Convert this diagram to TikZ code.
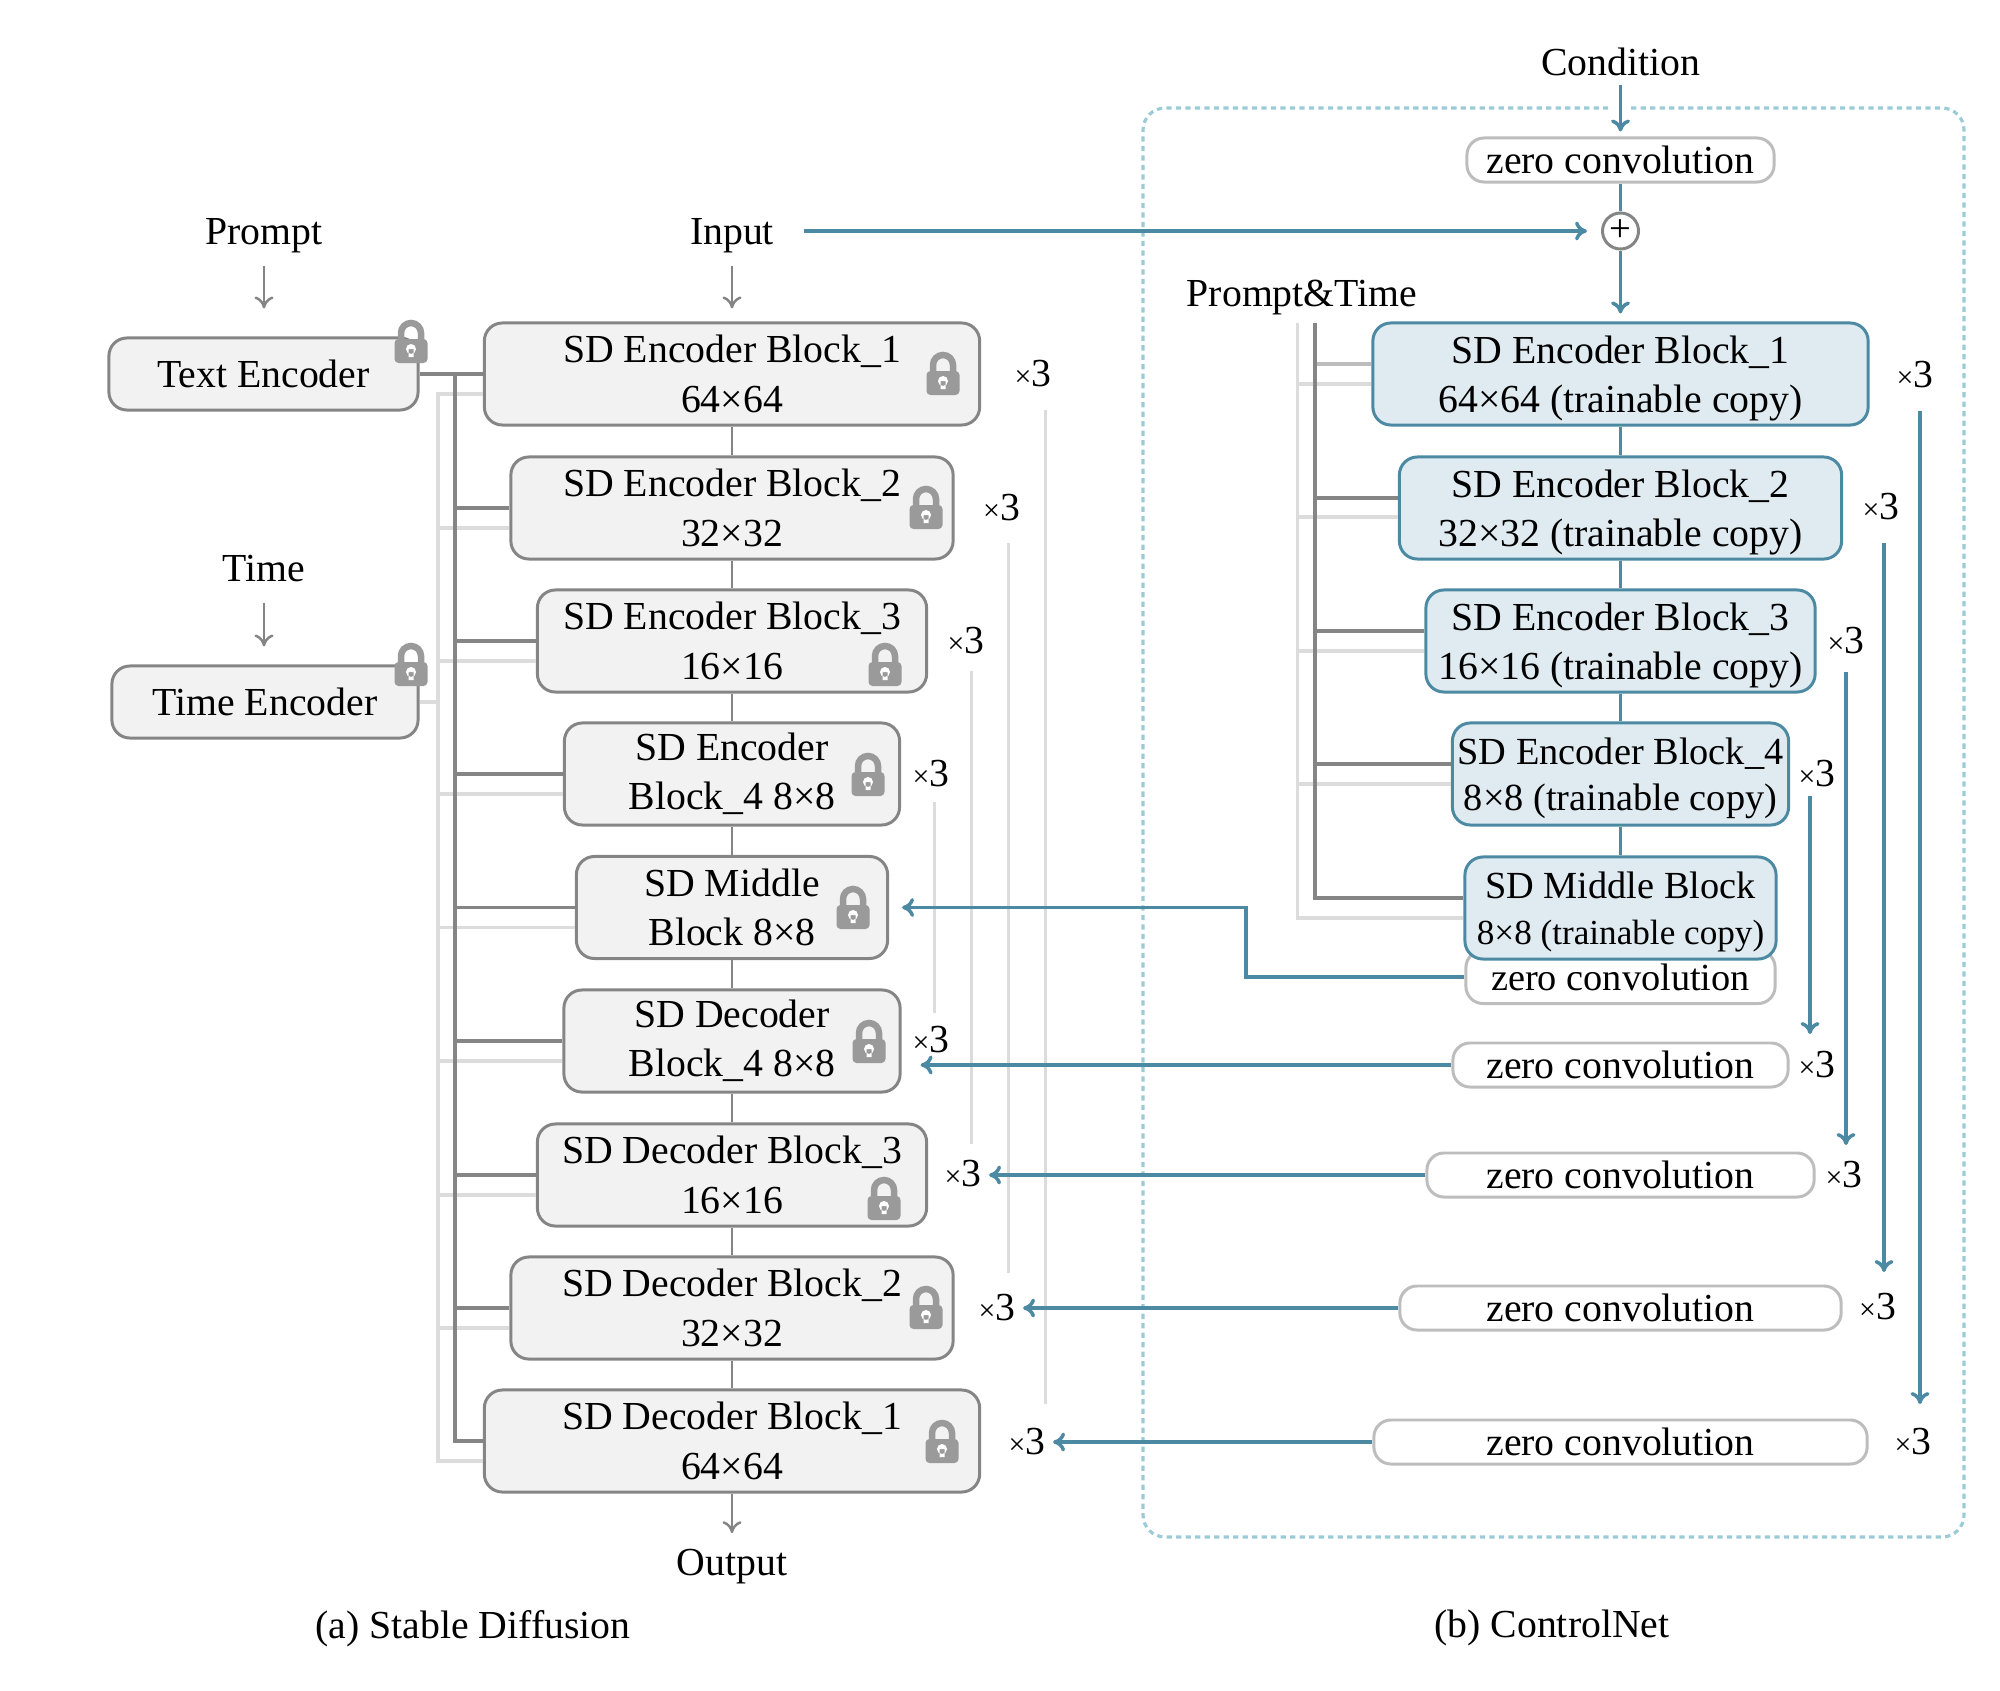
\documentclass[tikz,border=0pt]{standalone}
\usepackage{fontspec}
\setmainfont{Liberation Serif}
\usetikzlibrary{arrows.meta, positioning, calc}
\definecolor{teal1}{HTML}{4C89A2}
\definecolor{tealfill}{HTML}{DFEBF1}
\definecolor{dashteal}{HTML}{9CCBD8}
\definecolor{greyline}{HTML}{858585}
\definecolor{greylight}{HTML}{DCDCDC}
\definecolor{greyzero}{HTML}{BDBDBD}
\definecolor{greyfill}{HTML}{F2F2F2}
\definecolor{greylock}{HTML}{9A9A9A}
\newcommand{\xthree}{{\fontsize{8.5}{8.5}\selectfont ×}3}
\tikzset{
  flow/.style={
	x=0.01cm, y=-0.01cm, % one unit is one pixel of the reference
	>={Computer Modern Rightarrow[length=1.2mm,width=1.9mm]}, % open arrow heads
	font=\fontsize{11.3}{14}\selectfont,
	every node/.style={inner sep=0pt, align=center},
  },
  lbl/.style={text depth=0pt}, % labels sit on their baseline
  sdblock/.style={draw=greyline, fill=greyfill, line width=0.85pt, rounded corners=0.18cm, minimum height=1.02cm},
  ctblock/.style={draw=teal1, fill=tealfill, line width=0.85pt, rounded corners=0.18cm, minimum height=1.02cm, text depth=0pt},
  zeroconv/.style={draw=greyzero, fill=white, line width=0.85pt, rounded corners=0.17cm, minimum height=0.44cm},
  greyarrow/.style={draw=greyline, line width=0.7pt},
  bluearrow/.style={draw=teal1, line width=1pt},
  busdark/.style={draw=greyline, line width=1pt},
  buslight/.style={draw=greylight, line width=0.9pt},
  lockicon/.pic={
	\draw[greylock, line width=0.065cm] (-10,0) -- (-10,-9) arc[start angle=180, end angle=360, radius=10] -- (10,0);
	\fill[greylock, rounded corners=0.04cm] (-16.5,-3) rectangle (16.5,21);
	\fill[white] (0,7) circle[radius=5] (-2.5,7) rectangle (2.5,15);
  },
}
\begin{document}
\begin{tikzpicture}[flow]
	  \useasboundingbox (0,0) rectangle (2000,1691);

	  % stable diffusion
	  \node[lbl] (prompt) at (264,231) {Prompt};
	  \node[lbl] (time) at (264,568) {Time};
	  \node[lbl] (input) at (732,231) {Input};
	  \node[lbl] (output) at (732,1562) {Output};
	  \node[sdblock, minimum width=3.09cm, minimum height=0.72cm] (te) at (263.5,374) {Text Encoder};
	  \node[sdblock, minimum width=3.06cm, minimum height=0.72cm] (tie) at (265,702) {Time Encoder};

	  % light bus below the dark one
	  \coordinate (lightbus) at (438,395);
	  \coordinate (darkbus) at (455,374);

	  \node[sdblock, minimum width=4.95cm] (e1) at (732,374) {SD Encoder Block\_1\\64×64};
	  \node[sdblock, minimum width=4.42cm] (e2) at (732,508) {SD Encoder Block\_2\\32×32};
	  \node[sdblock, minimum width=3.89cm] (e3) at (732,641) {SD Encoder Block\_3\\16×16};
	  \node[sdblock, minimum width=3.35cm] (e4) at (732,774) {SD Encoder\\Block\_4 8×8};
	  \node[sdblock, minimum width=3.11cm] (mid) at (732,907.5) {SD Middle\\Block 8×8};
	  \node[sdblock, minimum width=3.36cm] (d4) at (732,1041) {SD Decoder\\Block\_4 8×8};
	  \node[sdblock, minimum width=3.89cm] (d3) at (732,1175) {SD Decoder Block\_3\\16×16};
	  \node[sdblock, minimum width=4.42cm] (d2) at (732,1308) {SD Decoder Block\_2\\32×32};
	  \node[sdblock, minimum width=4.95cm] (d1) at (732,1441) {SD Decoder Block\_1\\64×64};

	  \node[] (xe1) at (1033,374) {\xthree};
	  \node[] (xe2) at (1001.5,507.5) {\xthree};
	  \node[] (xe3) at (966,641) {\xthree};
	  \node[] (xe4) at (931,774) {\xthree};
	  \node[] (xd4) at (931,1040) {\xthree};
	  \node[] (xd3) at (963,1174) {\xthree};
	  \node[] (xd2) at (997,1308) {\xthree};
	  \node[] (xd1) at (1027,1442) {\xthree};

	  \pic at (411,342) {lockicon};
	  \pic at (411,665) {lockicon};
	  \pic at (943,374) {lockicon};
	  \pic at (926,508) {lockicon};
	  \pic at (885,665) {lockicon};
	  \pic at (868,775) {lockicon};
	  \pic at (853,908) {lockicon};
	  \pic at (869,1042) {lockicon};
	  \pic at (884,1199) {lockicon};
	  \pic at (926,1308) {lockicon};
	  \pic at (942,1442) {lockicon};

	  \draw[->, greyarrow, shorten <=0.21cm, shorten >=0.28cm] (prompt) -- (prompt |- te.north);
	  \draw[->, greyarrow, shorten <=0.21cm, shorten >=0.18cm] (time) -- (time |- tie.north);
	  \draw[->, greyarrow, shorten <=0.21cm, shorten >=0.13cm] (input) -- (e1);
	  \draw[->, greyarrow, shorten >=0.15cm] (d1) -- (output);
	  \draw[greyarrow] (e1) -- (e2);
	  \draw[greyarrow] (e2) -- (e3);
	  \draw[greyarrow] (e3) -- (e4);
	  \draw[greyarrow] (e4) -- (mid);
	  \draw[greyarrow] (mid) -- (d4);
	  \draw[greyarrow] (d4) -- (d3);
	  \draw[greyarrow] (d3) -- (d2);
	  \draw[greyarrow] (d2) -- (d1);

	  \draw[buslight] (tie.east) -- (tie.east -| lightbus);
	  \draw[buslight] ([yshift=-0.2cm]e1.west) -| (lightbus |- d1.west) |- ([yshift=-0.2cm]d1.west);
	  \draw[buslight] ([yshift=-0.2cm]e2.west) -- ++(-73,0);
	  \draw[buslight] ([yshift=-0.2cm]e3.west) -- ++(-100,0);
	  \draw[buslight] ([yshift=-0.2cm]e4.west) -- ++(-127,0);
	  \draw[buslight] ([yshift=-0.2cm]mid.west) -- ++(-139,0);
	  \draw[buslight] ([yshift=-0.2cm]d4.west) -- ++(-126,0);
	  \draw[buslight] ([yshift=-0.2cm]d3.west) -- ++(-100,0);
	  \draw[buslight] ([yshift=-0.2cm]d2.west) -- ++(-73,0);

	  \draw[busdark] (te.east) -- (e1.west);
	  \draw[busdark] (darkbus) |- (d1.west);
	  \draw[busdark] (e2.west) -- (e2.west -| darkbus);
	  \draw[busdark] (e3.west) -- (e3.west -| darkbus);
	  \draw[busdark] (e4.west) -- (e4.west -| darkbus);
	  \draw[busdark] (mid.west) -- (mid.west -| darkbus);
	  \draw[busdark] (d4.west) -- (d4.west -| darkbus);
	  \draw[busdark] (d3.west) -- (d3.west -| darkbus);
	  \draw[busdark] (d2.west) -- (d2.west -| darkbus);

	  % skip lines next to the blocks
	  \coordinate (sa1) at (1045.5,410); \coordinate (sb1) at (1045.5,1404);
	  \coordinate (sa2) at (1008.5,543); \coordinate (sb2) at (1008.5,1273);
	  \coordinate (sa3) at (971.5,671); \coordinate (sb3) at (971.5,1144);
	  \coordinate (sa4) at (934.5,802); \coordinate (sb4) at (934.5,1013);
	  \draw[buslight] (sa1) -- (sb1);
	  \draw[buslight] (sa2) -- (sb2);
	  \draw[buslight] (sa3) -- (sb3);
	  \draw[buslight] (sa4) -- (sb4);

	  % controlnet
	  \draw[draw=dashteal, line width=0.9pt, dash pattern=on 1.5pt off 1.2pt, rounded corners=0.22cm]
		  (1631,108) -- (1964,108) -- (1964,1537) -- (1143,1537) -- (1143,108) -- (1608,108);

	  \node[lbl] (cond) at (1620.5,62) {Condition};
	  \node[zeroconv, minimum width=3.07cm] (ztop) at (1620.5,160) {zero convolution};
	  \node[circle, draw=greyline, line width=0.85pt, minimum size=0.36cm, font=\fontsize{11}{11}\selectfont] (plus) at (1620.5,231) {+};
	  \node[lbl] (ptime) at (1302,293) {Prompt\&Time};

	  \node[ctblock, minimum width=4.95cm] (r1) at (1620.5,374) {SD Encoder Block\_1\\64×64 (trainable copy)};
	  \node[ctblock, minimum width=4.42cm] (r2) at (1620.5,508) {SD Encoder Block\_2\\32×32 (trainable copy)};
	  \node[ctblock, minimum width=3.89cm] (r3) at (1620.5,641) {SD Encoder Block\_3\\16×16 (trainable copy)};
	  \node[ctblock, minimum width=3.36cm, font=\fontsize{10.9}{13.2}\selectfont] (r4) at (1620.5,774) {SD Encoder Block\_4\\8×8 (trainable copy)};
	  \node[zeroconv, minimum width=3.09cm, minimum height=0.53cm, font=\fontsize{10.9}{13.2}\selectfont] (zm) at (1620.5,977) {zero convolution};
	  \node[ctblock, minimum width=3.11cm, font=\fontsize{10.9}{13}\selectfont] (rm) at (1620.5,908) {SD Middle Block\\{\fontsize{10}{12}\selectfont 8×8 (trainable copy)}};

	  \node[zeroconv, minimum width=3.35cm] (z4) at (1620.5,1065) {zero convolution};
	  \node[zeroconv, minimum width=3.87cm] (z3) at (1620.5,1175) {zero convolution};
	  \node[zeroconv, minimum width=4.41cm] (z2) at (1620.5,1308) {zero convolution};
	  \node[zeroconv, minimum width=4.93cm] (z1) at (1620.5,1442) {zero convolution};

	  \node[] (xr1) at (1915,375) {\xthree};
	  \node[] (xr2) at (1881,507) {\xthree};
	  \node[] (xr3) at (1846,640.5) {\xthree};
	  \node[] (xr4) at (1817,773.5) {\xthree};
	  \node[] (xz4) at (1817,1064.5) {\xthree};
	  \node[] (xz3) at (1844,1175) {\xthree};
	  \node[] (xz2) at (1877.5,1307) {\xthree};
	  \node[] (xz1) at (1913,1442) {\xthree};

	  \draw[->, bluearrow, shorten <=0.09cm, shorten >=0.05cm] (cond) -- (ztop);
	  \draw[bluearrow] (ztop) -- (plus);
	  \draw[->, bluearrow, shorten >=0.08cm] (plus) -- (r1);
	  \draw[->, bluearrow, shorten <=0.29cm, shorten >=0.14cm] (input) -- (plus);
	  \draw[bluearrow] (r1) -- (r2);
	  \draw[bluearrow] (r2) -- (r3);
	  \draw[bluearrow] (r3) -- (r4);
	  \draw[bluearrow] (r4) -- (rm);

	  % buses of the copy
	  \coordinate (ptlight) at (1297.5,323);
	  \coordinate (ptdark) at (1315,323);
	  \draw[buslight] ([yshift=-0.1cm]rm.west) -| (ptlight);
	  \draw[buslight] ([yshift=-0.1cm]r1.west) -| (ptlight);
	  \draw[buslight] ([yshift=-0.09cm]r2.west) -| (ptlight);
	  \draw[buslight] ([yshift=-0.1cm]r3.west) -| (ptlight);
	  \draw[buslight] ([yshift=-0.1cm]r4.west) -| (ptlight);
	  \draw[draw=greyzero, line width=0.9pt] ([yshift=0.1cm]r1.west) -| (ptdark);
	  \draw[busdark] ([yshift=0.1cm]rm.west) -| (ptdark);
	  \draw[busdark] ([yshift=0.1cm]r2.west) -| (ptdark);
	  \draw[busdark] ([yshift=0.1cm]r3.west) -| (ptdark);
	  \draw[busdark] ([yshift=0.1cm]r4.west) -| (ptdark);

	  % skip arrows of the copy
	  \coordinate (ra1) at (1920,411); \coordinate (rb1) at (1920,1404);
	  \coordinate (ra2) at (1884,543); \coordinate (rb2) at (1884,1272);
	  \coordinate (ra3) at (1846,672); \coordinate (rb3) at (1846,1145);
	  \coordinate (ra4) at (1810,796); \coordinate (rb4) at (1810,1034);
	  \draw[->, bluearrow] (ra1) -- (rb1);
	  \draw[->, bluearrow] (ra2) -- (rb2);
	  \draw[->, bluearrow] (ra3) -- (rb3);
	  \draw[->, bluearrow] (ra4) -- (rb4);

	  % back into the decoder
	  \coordinate (midbend) at (1246,907.5);
	  \draw[->, bluearrow, shorten >=0.13cm] (zm.west) -| (midbend) -- (mid.east);
	  \draw[->, bluearrow, shorten >=0.19cm] (z4.west) -- (z4.west -| d4.east);
	  \draw[->, bluearrow, shorten >=0.07cm] (z3.west) -- (z3.west -| xd3.east);
	  \draw[->, bluearrow, shorten >=0.07cm] (z2.west) -- (z2.west -| xd2.east);
	  \draw[->, bluearrow, shorten >=0.07cm] (z1.west) -- (z1.west -| xd1.east);

	  \node[lbl] (capa) at (473,1624) {(a) Stable Diffusion};
	  \node[lbl] (capb) at (1552,1624) {(b) ControlNet};
\end{tikzpicture}
\end{document}
